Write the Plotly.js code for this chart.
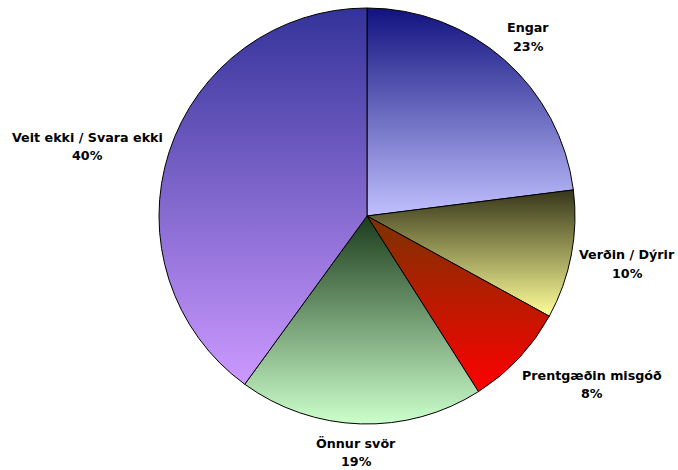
<!DOCTYPE html>
<html>
<head>
<meta charset="utf-8">
<script src="https://cdn.plot.ly/plotly-3.0.1.min.js"></script>
<style>html,body{margin:0;padding:0;background:#fff;}#chart{width:678px;height:470px;}</style>
</head>
<body>
<div id="chart"></div>
<script>
// Data
var categories = ["Engar", "Verðin / Dýrir", "Prentgæðin misgóð", "Önnur svör", "Veit ekki / Svara ekki"];
var values = [23, 10, 8, 19, 40];
var percentLabels = ["23%", "10%", "8%", "19%", "40%"];

// Styling (gradient top -> bottom for each slice)
var gradTop = ["#12127f", "#36361a", "#7a3300", "#1c3c1c", "#333399"];
var gradBottom = ["#c0c0ff", "#ffff99", "#ff0000", "#ccffcc", "#cc99ff"];
var midColors = ["#6969bf", "#9a9a5a", "#bd1a00", "#74a074", "#8066cc"];

// label placement in pixel coordinates (layout only)
var labelPx = [[528, 28], [627, 255], [592, 375], [356, 443], [87, 137]];
var W = 678, H = 470, lineGap = 18;

var annotations = [];
for (var i = 0; i < categories.length; i++) {
  var px = labelPx[i][0], py = labelPx[i][1];
  annotations.push({xref: 'paper', yref: 'paper', x: px / W, y: 1 - py / H,
    text: '<b>' + categories[i] + '</b>', showarrow: false, xanchor: 'center', yanchor: 'middle',
    font: {family: 'DejaVu Sans', size: 12.7, color: '#000'}});
  annotations.push({xref: 'paper', yref: 'paper', x: px / W, y: 1 - (py + lineGap) / H,
    text: '<b>' + percentLabels[i] + '</b>', showarrow: false, xanchor: 'center', yanchor: 'middle',
    font: {family: 'DejaVu Sans', size: 12.7, color: '#000'}});
}

var trace = {
  type: 'pie',
  labels: categories,
  values: values,
  sort: false,
  direction: 'clockwise',
  rotation: 0,
  textinfo: 'none',
  hoverinfo: 'skip',
  marker: {colors: midColors, line: {color: '#000', width: 1}},
  domain: {x: [159 / W, 575 / W], y: [1 - 424 / H, 1 - 8 / H]},
  showlegend: false
};

var layout = {
  width: W, height: H,
  margin: {l: 0, r: 0, t: 0, b: 0},
  paper_bgcolor: '#fff',
  showlegend: false,
  annotations: annotations
};

Plotly.newPlot('chart', [trace], layout, {displayModeBar: false, staticPlot: true}).then(function () {
  var svg = document.querySelector('#chart .main-svg');
  var ns = 'http://www.w3.org/2000/svg';
  var defs = svg.querySelector('defs');
  if (!defs) { defs = document.createElementNS(ns, 'defs'); svg.insertBefore(defs, svg.firstChild); }
  var paths = document.querySelectorAll('#chart g.slice path.surface');
  paths.forEach(function (p, k) {
    var id = 'sliceGrad' + k;
    var g = document.createElementNS(ns, 'linearGradient');
    g.setAttribute('id', id);
    g.setAttribute('x1', '0'); g.setAttribute('y1', '0');
    g.setAttribute('x2', '0'); g.setAttribute('y2', '1');
    var s1 = document.createElementNS(ns, 'stop');
    s1.setAttribute('offset', '0'); s1.setAttribute('stop-color', gradTop[k]);
    var s2 = document.createElementNS(ns, 'stop');
    s2.setAttribute('offset', '1'); s2.setAttribute('stop-color', gradBottom[k]);
    g.appendChild(s1); g.appendChild(s2);
    defs.appendChild(g);
    p.style.fill = 'url(#' + id + ')';
  });
});
</script>
</body>
</html>
